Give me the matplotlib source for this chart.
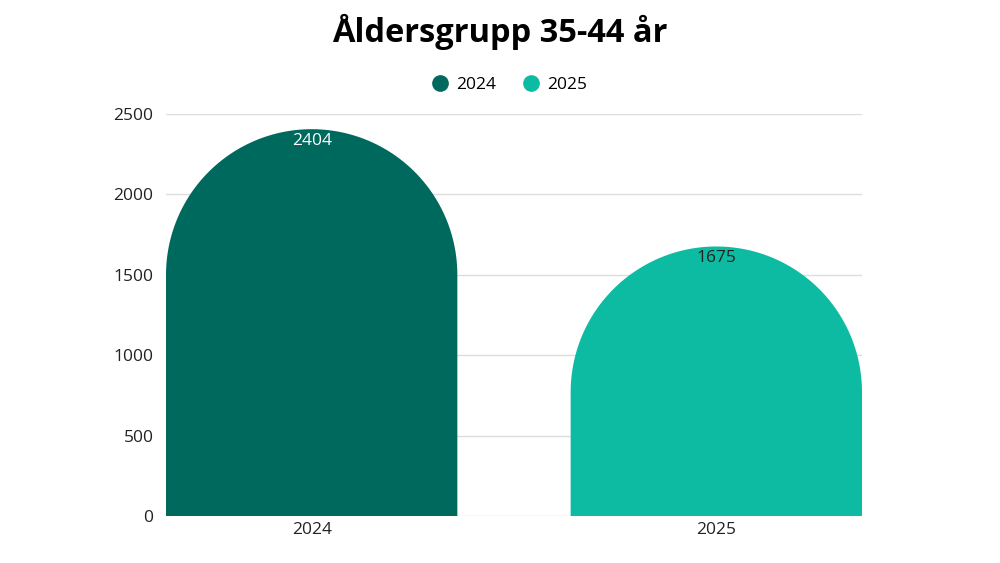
import numpy as np
import matplotlib
matplotlib.use("Agg")
import matplotlib.pyplot as plt
from matplotlib.patches import Polygon
from matplotlib.lines import Line2D

plt.rcParams['font.family'] = ['Open Sans', 'DejaVu Sans']

# data
years = ["2024", "2025"]
values = [2404, 1675]
colors = ["#00695E", "#0DBBA3"]
label_colors = ["white", "#222222"]

fig = plt.figure(figsize=(10, 5.63), dpi=100)
ax = fig.add_axes([0.166, 0.0835, 0.696, 0.7145])

width = 0.72
x = np.arange(len(years))
ax.set_xlim(-width / 2, len(years) - 1 + width / 2)
ax.set_ylim(0, 2500)

# radius of the round top, in y units, so that it is a circle on screen
fig.canvas.draw()
p0 = ax.transData.transform((0, 0))
p1 = ax.transData.transform((width / 2, 1000))
r_px = p1[0] - p0[0]
r_y = r_px / (p1[1] - p0[1]) * 1000

t = np.linspace(0, np.pi, 100)
for xi, v, c in zip(x, values, colors):
    top = v - r_y
    xs = np.concatenate([[xi + width / 2], xi + width / 2 * np.cos(t), [xi - width / 2]])
    ys = np.concatenate([[0], top + r_y * np.sin(t), [0]])
    ax.add_patch(Polygon(np.column_stack([xs, ys]), closed=True, color=c, lw=0, zorder=2))

for xi, v, lc in zip(x, values, label_colors):
    ax.annotate(str(v), (xi, v), xytext=(0, -12), textcoords='offset pixels',
                ha='center', va='center', color=lc, fontsize=12.5)

ax.set_yticks([0, 500, 1000, 1500, 2000, 2500])
ax.set_xticks(x)
ax.set_xticklabels(years)
ax.grid(axis='y', color='#dddddd', lw=1, zorder=0)
ax.set_axisbelow(True)
for s in ax.spines.values():
    s.set_visible(False)
ax.tick_params(length=0, labelsize=12.5, colors='#222222')
ax.tick_params(axis='y', pad=9)
ax.tick_params(axis='x', pad=4)

handles = [Line2D([], [], marker='o', ls='', color=c, markersize=11) for c in colors]
fig.legend(handles, years, loc='center', bbox_to_anchor=(0.505, 0.849), ncol=2,
           frameon=False, fontsize=12.5, handletextpad=-0.05, columnspacing=1.0)

fig.suptitle("Åldersgrupp 35-44 år", y=0.975, fontsize=23.5, fontweight='bold')

fig.savefig("out.png", dpi=100)
